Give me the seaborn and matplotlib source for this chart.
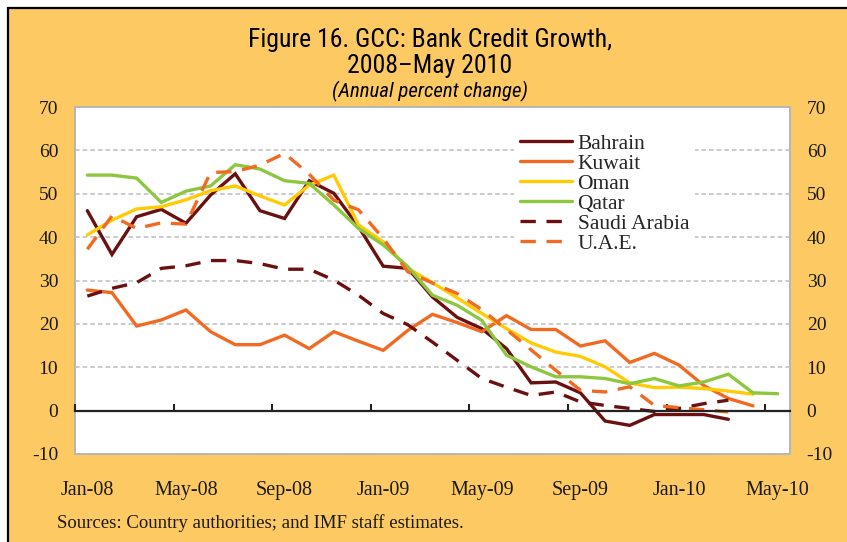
import numpy as np
import pandas as pd
import matplotlib
matplotlib.use("Agg")
import matplotlib.pyplot as plt
from matplotlib.patches import Rectangle
import seaborn as sns

# ---------------- data (annual percent change, monthly Jan-08 .. May-10) ----------------
months = ["Jan-08", "Feb-08", "Mar-08", "Apr-08", "May-08", "Jun-08", "Jul-08", "Aug-08",
          "Sep-08", "Oct-08", "Nov-08", "Dec-08", "Jan-09", "Feb-09", "Mar-09", "Apr-09",
          "May-09", "Jun-09", "Jul-09", "Aug-09", "Sep-09", "Oct-09", "Nov-09", "Dec-09",
          "Jan-10", "Feb-10", "Mar-10", "Apr-10", "May-10"]
tick_labels = ["Jan-08", "May-08", "Sep-08", "Jan-09", "May-09", "Sep-09", "Jan-10", "May-10"]

bahrain = [46.1, 36.0, 44.7, 46.4, 43.2, 49.7, 54.6, 46.1, 44.3, 53.0, 50.1, 42.4, 33.3, 32.8,
           26.2, 21.5, 18.9, 14.3, 6.4, 6.6, 4.1, -2.4, -3.4, -0.9, -0.9, -0.9, -2.0]
kuwait = [27.8, 27.2, 19.5, 20.9, 23.2, 18.2, 15.2, 15.2, 17.4, 14.3, 18.2, 16.0, 13.9, 18.5,
          22.2, 20.3, 18.2, 21.9, 18.7, 18.7, 14.9, 16.1, 11.1, 13.2, 10.5, 5.8, 2.8, 1.1]
oman = [40.5, 43.9, 46.5, 47.0, 48.6, 50.7, 51.8, 49.5, 47.4, 52.0, 54.3, 42.8, 38.9, 32.8,
        29.5, 26.0, 22.4, 18.9, 15.6, 13.5, 12.5, 10.1, 6.4, 5.3, 5.4, 5.1, 4.5, 3.8]
qatar = [54.3, 54.3, 53.6, 48.0, 50.6, 51.8, 56.7, 55.7, 53.0, 52.4, 47.4, 42.0, 38.2, 33.2,
         26.6, 24.3, 20.8, 12.8, 10.1, 7.8, 7.8, 7.4, 6.2, 7.4, 5.7, 6.6, 8.4, 4.1, 3.9]
saudi = [26.4, 28.2, 29.5, 32.8, 33.4, 34.6, 34.6, 33.9, 32.6, 32.6, 30.1, 26.6, 22.4, 19.8,
         15.8, 11.6, 7.4, 5.4, 3.5, 4.3, 2.0, 1.2, 0.5, -0.2, 0.5, 1.6, 2.4]
uae = [37.2, 44.9, 42.0, 43.3, 43.0, 54.9, 55.1, 56.6, 59.3, 54.5, 48.5, 46.3, 39.7, 32.0,
       29.4, 27.0, 23.3, 18.7, 14.0, 9.3, 4.7, 4.3, 5.5, 1.2, 0.7, 0.2, -0.3]

series = {"Bahrain": bahrain, "Kuwait": kuwait, "Oman": oman,
          "Qatar": qatar, "Saudi Arabia": saudi, "U.A.E.": uae}

# ---------------- styling ----------------
BG = "#FDC962"
MAROON = "#6B1010"
ORANGE = "#F26A22"
colors = {"Bahrain": MAROON, "Kuwait": ORANGE, "Oman": "#FFCB05",
          "Qatar": "#8DC63F", "Saudi Arabia": MAROON, "U.A.E.": ORANGE}
dashed = {"Saudi Arabia", "U.A.E."}

sns.set_theme(style="white")
plt.rcParams["font.family"] = ["Liberation Serif", "DejaVu Serif"]
plt.rcParams["axes.unicode_minus"] = False

W, H = 847, 542
fig = plt.figure(figsize=(W / 100, H / 100), dpi=100)
fig.patch.set_facecolor("white")
fig.patches.append(Rectangle((8 / W, -0.05), 1.1, 1.05 - 8 / H, transform=fig.transFigure,
                             facecolor=BG, edgecolor="black", linewidth=1.6, zorder=-10))

ax = fig.add_axes([75 / W, (H - 454) / H, (790 - 75) / W, (454 - 107) / H])
ax.set_facecolor("white")

rows = []
for name, vals in series.items():
    for i, v in enumerate(vals):
        rows.append({"idx": i, "month": months[i], "country": name, "value": v})
df = pd.DataFrame(rows)

for name in series:
    sub = df[df["country"] == name]
    ls = (0, (4.6, 3.2)) if name in dashed else "-"
    sns.lineplot(data=sub, x="idx", y="value", color=colors[name], linewidth=2.4,
                 linestyle=ls, label=name, ax=ax, solid_joinstyle="miter")

ax.set_xlim(-0.5, len(months) - 0.5)
ax.set_ylim(-10, 70)
ax.set_xlabel("")
ax.set_ylabel("")

# y axis: labels on both sides, no tick marks
ax.set_yticks(np.arange(-10, 71, 10))
ax.tick_params(axis="y", length=0, labelleft=True, labelright=True, labelsize=14,
               pad=12, colors="#1a1a1a")
ax.yaxis.grid(True, linestyle=(0, (3, 2)), color="#BDBDBD", linewidth=1.1)
ax.xaxis.grid(False)

# x axis: line at zero, small inward ticks between category groups, labels at bottom
label_pos = [months.index(t) for t in tick_labels]
ax.set_xticks(label_pos)
ax.set_xticklabels(tick_labels)
ax.set_xticks(np.arange(-0.5, len(months) - 1, 4), minor=True)
ax.tick_params(axis="x", which="major", length=0, pad=51, labelsize=14.5, colors="#1a1a1a")
ax.tick_params(axis="x", which="minor", direction="in", length=5, width=1.5, color="#222222",
               bottom=True)

for s in ["left", "right", "top"]:
    ax.spines[s].set_visible(False)
ax.spines["bottom"].set_position(("data", 0))
ax.spines["bottom"].set_color("#222222")
ax.spines["bottom"].set_linewidth(1.6)
ax.patch.set_edgecolor("#B5B5B5")
ax.patch.set_linewidth(1.4)

leg = ax.legend(loc="upper left", bbox_to_anchor=(514 / W, 1 - 127 / H),
                bbox_transform=fig.transFigure, frameon=True, fancybox=False,
                facecolor="white", edgecolor="none", framealpha=1,
                prop={"family": ["Liberation Serif", "DejaVu Serif"], "size": 15.5},
                handlelength=2.4, handletextpad=0.25, labelspacing=0.0,
                borderpad=0.3, borderaxespad=0)

# titles
tfont = ["Liberation Sans Narrow", "Roboto Condensed", "DejaVu Sans"]
fig.text(430 / W, 1 - 40 / H, "Figure 16. GCC: Bank Credit Growth,", ha="center", va="center",
         fontsize=18.5, family=tfont, weight="normal", color="black")
fig.text(430 / W, 1 - 66 / H, "2008\u2013May 2010", ha="center", va="center",
         fontsize=18.5, family=tfont, weight="normal", color="black")
fig.text(430 / W, 1 - 91 / H, "(Annual percent change)", ha="center", va="center",
         fontsize=15, family=tfont, weight="normal", style="italic", color="black")
fig.text(57 / W, 1 - 523 / H, "Sources: Country authorities; and IMF staff estimates.",
         ha="left", va="center", fontsize=13.5, family=["Liberation Serif", "DejaVu Serif"],
         color="#1a1a1a")

fig.savefig("out.png", dpi=100, facecolor=fig.get_facecolor())
